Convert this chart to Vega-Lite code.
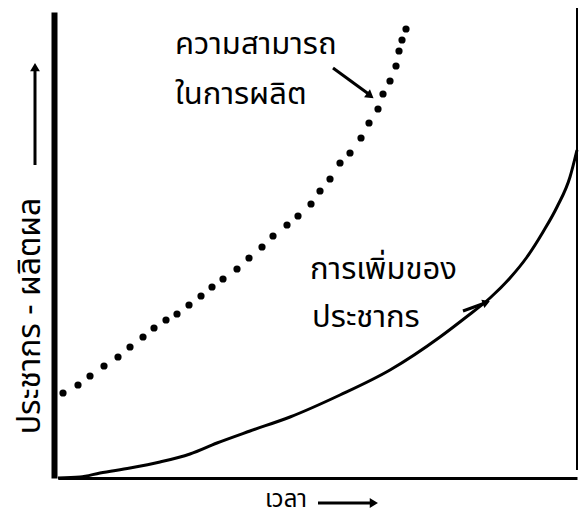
{
  "$schema": "https://vega.github.io/schema/vega-lite/v6.json",
  "autosize": {"type": "none"},
  "padding": {"left": 58, "top": 12, "right": 2, "bottom": 41},
  "width": 519,
  "height": 466,
  "background": "white",
  "config": {"view": {"stroke": null}, "font": "Noto Sans Thai, Noto Sans, sans-serif"},
  "datasets": {
    "dots": [
      {"x": 5, "y": 85}, {"x": 20, "y": 93}, {"x": 32, "y": 102}, {"x": 46, "y": 112},
      {"x": 60, "y": 121}, {"x": 72, "y": 131}, {"x": 85, "y": 141}, {"x": 96, "y": 150},
      {"x": 108, "y": 158}, {"x": 119, "y": 164}, {"x": 131, "y": 173}, {"x": 143, "y": 182},
      {"x": 154, "y": 191}, {"x": 165, "y": 199}, {"x": 179, "y": 209}, {"x": 191, "y": 220},
      {"x": 204, "y": 231}, {"x": 215, "y": 242}, {"x": 229, "y": 253}, {"x": 240, "y": 262},
      {"x": 253, "y": 274}, {"x": 262, "y": 287}, {"x": 272, "y": 299}, {"x": 282, "y": 315},
      {"x": 292, "y": 325}, {"x": 303, "y": 340}, {"x": 311, "y": 355}, {"x": 320, "y": 369},
      {"x": 325, "y": 384}, {"x": 332, "y": 397}, {"x": 338, "y": 412}, {"x": 341, "y": 427},
      {"x": 344, "y": 438}, {"x": 348, "y": 449}
    ],
    "solid": [
      {"x": 0, "y": 0}, {"x": 22, "y": 1}, {"x": 42, "y": 5}, {"x": 72, "y": 10},
      {"x": 102, "y": 16}, {"x": 132, "y": 24}, {"x": 159, "y": 35}, {"x": 192, "y": 47},
      {"x": 232, "y": 61}, {"x": 282, "y": 83}, {"x": 332, "y": 108}, {"x": 382, "y": 141},
      {"x": 407, "y": 160}, {"x": 432, "y": 180}, {"x": 452, "y": 200}, {"x": 469, "y": 221},
      {"x": 485, "y": 246}, {"x": 499, "y": 271}, {"x": 512, "y": 301}, {"x": 519, "y": 328}
    ],
    "border": [{"x": 519, "y": 8, "y2": 470}],
    "shafts": [
      {"x": -23, "y": 313, "x2": -23, "y2": 410},
      {"x": 260, "y": -25, "x2": 315, "y2": -25},
      {"x": 275, "y": 410, "x2": 312, "y2": 383},
      {"x": 405, "y": 167, "x2": 427, "y2": 175}
    ],
    "labels": [
      {"text": "ความสามารถ", "x": 117, "y": 433},
      {"text": "ในการผลิต", "x": 117, "y": 383},
      {"text": "การเพิ่มของ", "x": 252, "y": 208},
      {"text": "ประชากร", "x": 254, "y": 160}
    ],
    "xlabel": [{"text": "เวลา", "x": 207, "y": -29}],
    "ylabel": [{"text": "ประชากร - ผลิตผล", "x": -28, "y": 162}]
  },
  "layer": [
    {
      "data": {"name": "dots"},
      "mark": {"type": "point", "filled": true, "color": "black", "size": 52, "opacity": 1, "clip": false},
      "encoding": {
        "x": {"field": "x", "type": "quantitative", "scale": {"domain": [0, 519], "nice": false, "zero": false},
          "axis": {"labels": false, "ticks": false, "grid": false, "title": null, "domainColor": "black", "domainWidth": 3}},
        "y": {"field": "y", "type": "quantitative", "scale": {"domain": [0, 466], "nice": false, "zero": false},
          "axis": {"labels": false, "ticks": false, "grid": false, "title": null, "domainColor": "black", "domainWidth": 6, "offset": 4}}
      }
    },
    {
      "data": {"name": "solid"},
      "mark": {"type": "line", "color": "black", "strokeWidth": 3, "interpolate": "monotone", "clip": false},
      "encoding": {
        "x": {"field": "x", "type": "quantitative"},
        "y": {"field": "y", "type": "quantitative"}
      }
    },
    {
      "data": {"name": "border"},
      "mark": {"type": "rule", "color": "black", "strokeWidth": 2},
      "encoding": {
        "x": {"field": "x", "type": "quantitative"},
        "y": {"field": "y", "type": "quantitative"},
        "y2": {"field": "y2"}
      }
    },
    {
      "data": {"name": "shafts"},
      "mark": {"type": "rule", "color": "black", "strokeWidth": 3},
      "encoding": {
        "x": {"field": "x", "type": "quantitative"},
        "y": {"field": "y", "type": "quantitative"},
        "x2": {"field": "x2"},
        "y2": {"field": "y2"}
      }
    },
    {
      "data": {"values": [{"x": -23, "y": 413}]},
      "mark": {"type": "point", "shape": "M-1,-0.6L0,0L-1,0.6Z", "filled": true, "color": "black", "strokeWidth": 2, "stroke": "black", "size": 110, "angle": -90, "opacity": 1},
      "encoding": {"x": {"field": "x", "type": "quantitative"}, "y": {"field": "y", "type": "quantitative"}}
    },
    {
      "data": {"values": [{"x": 318, "y": -25}]},
      "mark": {"type": "point", "shape": "M-1,-0.6L0,0L-1,0.6Z", "filled": true, "color": "black", "strokeWidth": 2, "stroke": "black", "size": 110, "angle": 0, "opacity": 1},
      "encoding": {"x": {"field": "x", "type": "quantitative"}, "y": {"field": "y", "type": "quantitative"}}
    },
    {
      "data": {"values": [{"x": 314, "y": 381}]},
      "mark": {"type": "point", "shape": "M-1,-0.6L0,0L-1,0.6Z", "filled": true, "color": "black", "strokeWidth": 2, "stroke": "black", "size": 110, "angle": 37, "opacity": 1},
      "encoding": {"x": {"field": "x", "type": "quantitative"}, "y": {"field": "y", "type": "quantitative"}}
    },
    {
      "data": {"values": [{"x": 430, "y": 176}]},
      "mark": {"type": "point", "shape": "M-1,-0.6L0,0L-1,0.6Z", "filled": true, "color": "black", "strokeWidth": 2, "stroke": "black", "size": 80, "angle": -20, "opacity": 1},
      "encoding": {"x": {"field": "x", "type": "quantitative"}, "y": {"field": "y", "type": "quantitative"}}
    },
    {
      "data": {"name": "labels"},
      "mark": {"type": "text", "align": "left", "baseline": "middle", "fontSize": 31, "color": "black"},
      "encoding": {
        "x": {"field": "x", "type": "quantitative"},
        "y": {"field": "y", "type": "quantitative"},
        "text": {"field": "text"}
      }
    },
    {
      "data": {"name": "xlabel"},
      "mark": {"type": "text", "align": "left", "baseline": "alphabetic", "fontSize": 24, "color": "black"},
      "encoding": {
        "x": {"field": "x", "type": "quantitative"},
        "y": {"field": "y", "type": "quantitative"},
        "text": {"field": "text"}
      }
    },
    {
      "data": {"name": "ylabel"},
      "mark": {"type": "text", "align": "center", "baseline": "middle", "fontSize": 32, "angle": 270, "color": "black"},
      "encoding": {
        "x": {"field": "x", "type": "quantitative"},
        "y": {"field": "y", "type": "quantitative"},
        "text": {"field": "text"}
      }
    }
  ]
}
